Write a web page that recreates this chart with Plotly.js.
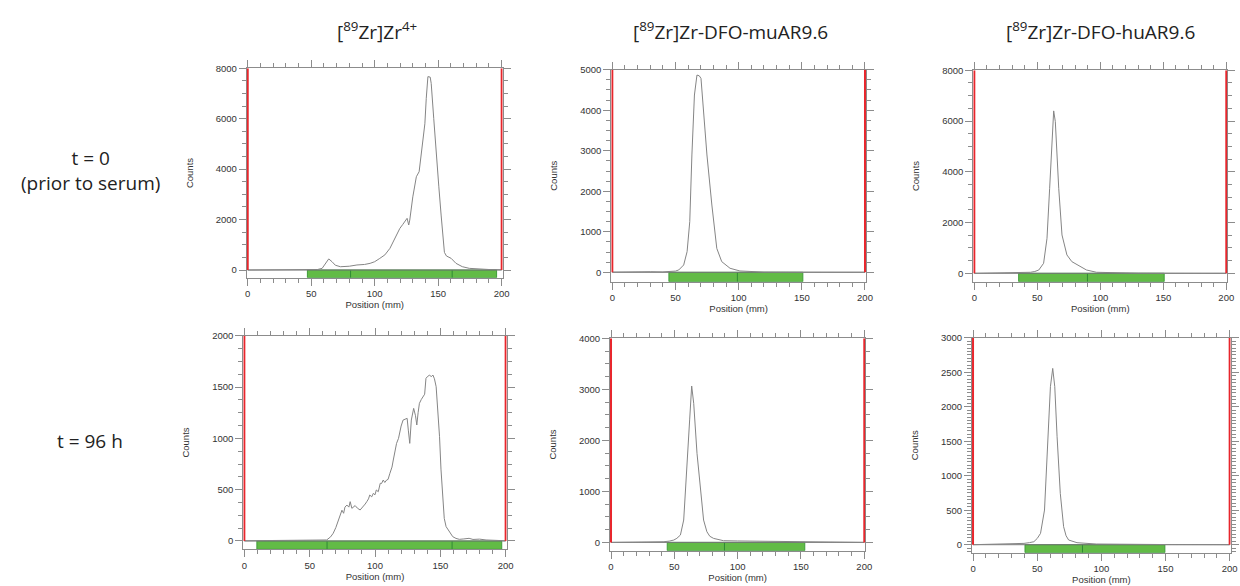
<!DOCTYPE html>
<html>
<head>
<meta charset="utf-8">
<script src="https://cdn.plot.ly/plotly-3.0.1.min.js"></script>
<style>html,body{margin:0;padding:0;background:#fff;}#chart{width:1240px;height:586px;}</style>
</head>
<body>
<div id="chart"></div>
<script>
// ---------- data ----------
const columnTitles = ['[<sup>89</sup>Zr]Zr<sup>4+</sup>', '[<sup>89</sup>Zr]Zr-DFO-muAR9.6', '[<sup>89</sup>Zr]Zr-DFO-huAR9.6'];
const rowTitles = ['t = 0<br>(prior to serum)', 't = 96 h'];

// t = 0, Zr4+
const p1x = [0, 20, 40, 55, 58.6, 61, 63.8, 66.4, 69, 73, 80, 86, 92, 96.4, 100, 104, 108, 112, 116, 119.8, 122, 124, 125.5, 126.8, 127.6, 130, 132.8, 135, 136, 138, 139.5, 140.6, 141.9, 143.7, 144.5, 146.5, 148.4, 150.5, 152.3, 154.9, 156.5, 160.2, 164, 169, 174.5, 180, 190, 200];
const p1y = [0, 0, 5, 20, 66, 265, 440, 330, 190, 130, 150, 200, 220, 265, 330, 460, 600, 860, 1250, 1650, 1800, 1950, 2050, 1785, 1980, 2900, 3700, 3900, 4300, 5090, 5800, 6810, 7670, 7650, 7400, 6000, 4560, 3300, 2180, 700, 556, 463, 265, 132, 66, 40, 20, 10];
// t = 0, muAR9.6
const p2x = [0, 10, 20, 30, 40, 46, 50, 52.6, 56.5, 59.2, 61.3, 63, 65, 67, 68.8, 70.2, 72.3, 74.9, 78.8, 82.7, 86.6, 93.2, 101, 110, 120, 140, 160, 180, 200];
const p2y = [5, 10, 25, 15, 10, 16, 30, 58, 181, 510, 1250, 2895, 4375, 4868, 4850, 4786, 3880, 2895, 1660, 590, 263, 99, 33, 15, 5, 3, 2, 2, 2];
// t = 0, huAR9.6
const p3x = [0, 20, 40, 44.6, 48, 51.2, 55, 57.7, 59.8, 61.7, 63, 64.3, 67, 69.6, 73.5, 77.4, 84, 89, 97, 110, 130, 160, 200];
const p3y = [0, 5, 20, 40, 70, 131, 394, 1380, 3350, 5320, 6400, 5980, 3350, 1510, 723, 460, 263, 131, 40, 15, 5, 2, 0];
// t = 96 h, Zr4+
const p4x = [0, 10, 20, 30, 40, 50, 55, 60, 63, 66, 68, 70, 72, 74.7, 76, 77, 78.5, 80, 81, 82.3, 84.8, 86.5, 88.6, 91, 92.5, 93.7, 95, 96, 97.5, 98.7, 100, 101, 102.5, 104, 105, 106.3, 107.5, 108.9, 110, 111.4, 113, 114, 115.5, 116.5, 118, 119, 120, 121.5, 123, 124.6, 125.5, 126.6, 127.8, 129.6, 131, 132, 133, 134, 135.5, 136.7, 138, 139, 140, 141.8, 143, 144.3, 145.5, 146.8, 148, 149.4, 150.5, 151.9, 153, 154.4, 157, 159.5, 162, 164.6, 168, 172, 175, 180, 185, 190, 197, 200];
const p4y = [2, 3, 2, 4, 3, 6, 4, 8, 10, 40, 75, 130, 205, 300, 270, 330, 350, 330, 383, 318, 345, 320, 302, 334, 360, 383, 410, 448, 430, 464, 450, 497, 480, 562, 560, 594, 570, 594, 600, 659, 720, 789, 880, 951, 1000, 1081, 1120, 1178, 1185, 1195, 1080, 951, 1178, 1292, 1220, 1130, 1250, 1341, 1380, 1406, 1430, 1584, 1600, 1617, 1600, 1617, 1580, 1503, 1300, 1016, 700, 367, 220, 140, 90, 42, 25, 16, 20, 26, 15, 18, 10, 8, 3, 2];
// t = 96 h, muAR9.6
const p5x = [0, 20, 41.8, 46, 49.6, 52, 54.8, 57.4, 60, 62.1, 63.7, 65.3, 67.9, 70.5, 73.1, 75.7, 78, 81, 88.8, 100, 107, 125, 141, 160, 172, 185, 200];
const p5y = [0, 3, 13, 25, 46, 80, 144, 438, 1418, 2400, 3065, 2725, 1745, 1026, 438, 209, 120, 78, 33, 28, 26, 22, 20, 15, 13, 8, 0];
// t = 96 h, huAR9.6
const p6x = [0, 27, 39.7, 44, 47.4, 50, 52.6, 55.7, 57.7, 60.3, 62.1, 63.7, 65.5, 68, 70.6, 72.5, 74.5, 81, 96, 120, 150, 200];
const p6y = [0, 10, 19, 30, 43, 90, 164, 502, 1323, 2290, 2555, 2290, 1565, 744, 261, 130, 68, 29, 10, 5, 2, 0];

// regions of interest (green bars) and their dividers, mm
const roiStart = [47, 44.8, 35.2, 9.6, 44.4, 40.5];
const roiEnd = [196, 150.8, 150.7, 197, 153, 149.5];
const roiDividers = [[81, 161], [99], [89.8], [63.3, 159], [89.6], [85.3]];
// plate origin / front markers, mm
const markers = [0, 200];

// ---------- layout helpers ----------
const xs = [p1x, p2x, p3x, p4x, p5x, p6x];
const ys = [p1y, p2y, p3y, p4y, p5y, p6y];
const yRanges = [[-305, 8000], [-232, 5000], [-331, 8000], [-81, 2000], [-163, 4000], [-116, 3000]];
const yDtick = [2000, 1000, 2000, 500, 1000, 500];
const yMinor = [500, 250, 500, 125, 250, 50];
// pixel boxes [left, right, top, bottom]
const boxes = [
  [246.7, 502.7, 68.3, 277.7],
  [611.3, 866.0, 69.7, 281.7],
  [973.3, 1227.3, 70.3, 281.7],
  [243.3, 506.7, 335.7, 549.3],
  [610.0, 865.3, 338.3, 550.7],
  [972.0, 1230.7, 337.7, 552.7]
];
const W = 1240, H = 586;

const axColor = '#8c8c8c';
const tickFont = {family: 'Liberation Sans, Arial, sans-serif', size: 9.5, color: '#333'};
const titleFont = {family: 'Liberation Sans, Arial, sans-serif', size: 9.5, color: '#333'};

const data = [];
const layout = {
  width: W, height: H,
  margin: {l: 0, r: 0, t: 0, b: 0},
  paper_bgcolor: '#fff', plot_bgcolor: '#fff',
  showlegend: false,
  shapes: [], annotations: []
};

for (let i = 0; i < 6; i++) {
  const n = i === 0 ? '' : String(i + 1);
  const b = boxes[i];
  data.push({
    type: 'scatter', mode: 'lines',
    x: xs[i], y: ys[i],
    xaxis: 'x' + n, yaxis: 'y' + n,
    line: {color: '#858585', width: 1},
    hoverinfo: 'skip'
  });
  layout['xaxis' + n] = {
    domain: [b[0] / W, b[1] / W],
    anchor: 'y' + n,
    range: [-0.8, 200.8],
    dtick: 50, tick0: 0,
    ticks: 'outside', ticklen: 7, tickwidth: 1, tickcolor: axColor,
    minor: {dtick: 10, ticks: 'outside', ticklen: 4, tickcolor: axColor, showgrid: false},
    showline: true, linecolor: axColor, linewidth: 1, mirror: 'ticks',
    showgrid: false, zeroline: false,
    tickfont: tickFont,
    title: {text: 'Position (mm)', font: titleFont, standoff: 0},
    fixedrange: true
  };
  layout['yaxis' + n] = {
    domain: [1 - b[3] / H, 1 - b[2] / H],
    anchor: 'x' + n,
    range: yRanges[i],
    dtick: yDtick[i], tick0: 0,
    ticks: 'outside', ticklen: 7, tickwidth: 1, tickcolor: axColor,
    minor: {dtick: yMinor[i], ticks: 'outside', ticklen: 4, tickcolor: axColor, showgrid: false},
    showline: true, linecolor: axColor, linewidth: 1, mirror: 'ticks',
    showgrid: false, zeroline: false,
    tickfont: tickFont,
    title: {text: 'Counts', font: titleFont, standoff: 20},
    fixedrange: true
  };
  const xr = 'x' + n, yr = 'y' + n;
  // green ROI bar
  layout.shapes.push({type: 'rect', xref: xr, yref: yr, x0: roiStart[i], x1: roiEnd[i], y0: yRanges[i][0], y1: 0,
    fillcolor: '#62bb46', line: {color: '#3f9c3a', width: 1}, layer: 'below'});
  roiDividers[i].forEach(d => {
    layout.shapes.push({type: 'line', xref: xr, yref: yr, x0: d, x1: d, y0: yRanges[i][0], y1: 0,
      line: {color: '#2f8a35', width: 1}, layer: 'below'});
  });
  // baseline at zero
  layout.shapes.push({type: 'line', xref: xr, yref: yr, x0: 0, x1: 200, y0: 0, y1: 0,
    line: {color: '#777', width: 1}, layer: 'below'});
  // red origin / front lines
  markers.forEach(m => {
    layout.shapes.push({type: 'line', xref: xr, yref: yr, x0: m, x1: m, y0: 0, y1: yRanges[i][1],
      line: {color: '#e8262c', width: 2}, layer: 'above'});
  });
}

const bigFont = {family: 'Open Sans, Noto Sans, sans-serif', size: 19, color: '#222'};
const colX = [377, 730, 1100];
columnTitles.forEach((t, k) => {
  layout.annotations.push({text: t, xref: 'paper', yref: 'paper', x: colX[k] / W, y: 1 - 31 / H,
    xanchor: 'center', yanchor: 'middle', showarrow: false, font: bigFont});
});
const rowY = [170, 441];
rowTitles.forEach((t, k) => {
  layout.annotations.push({text: t, xref: 'paper', yref: 'paper', x: 90 / W, y: 1 - rowY[k] / H,
    xanchor: 'center', yanchor: 'middle', showarrow: false, font: bigFont, align: 'center'});
});

Plotly.newPlot('chart', data, layout, {displayModeBar: false, staticPlot: true});
</script>
</body>
</html>
